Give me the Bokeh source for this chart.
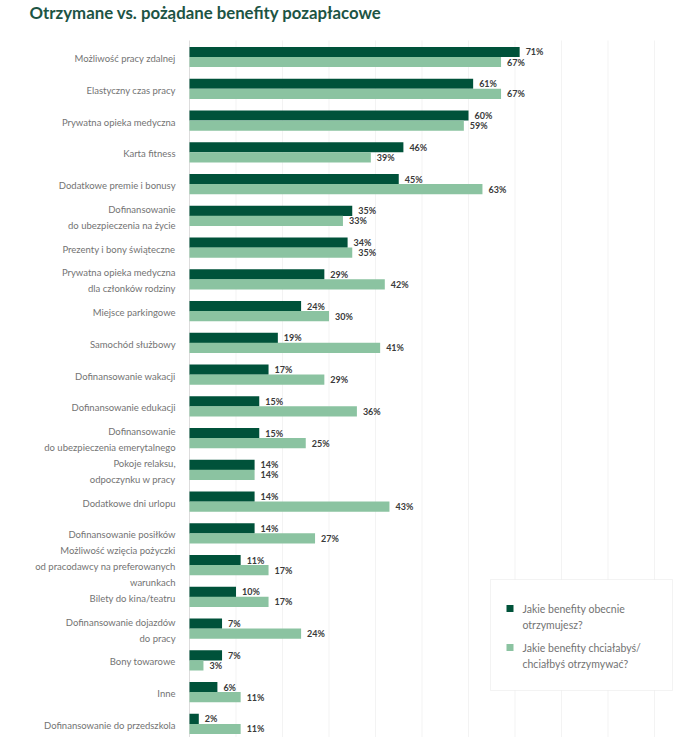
from bokeh.plotting import figure
from bokeh.models import Range1d, Label, BoxAnnotation, ColumnDataSource
from bokeh.core.properties import value
from bokeh.embed import file_html
from bokeh.resources import INLINE

categories = [
    "Możliwość pracy zdalnej",
    "Elastyczny czas pracy",
    "Prywatna opieka medyczna",
    "Karta fitness",
    "Dodatkowe premie i bonusy",
    "Dofinansowanie\ndo ubezpieczenia na życie",
    "Prezenty i bony świąteczne",
    "Prywatna opieka medyczna\ndla członków rodziny",
    "Miejsce parkingowe",
    "Samochód służbowy",
    "Dofinansowanie wakacji",
    "Dofinansowanie edukacji",
    "Dofinansowanie\ndo ubezpieczenia emerytalnego",
    "Pokoje relaksu,\nodpoczynku w pracy",
    "Dodatkowe dni urlopu",
    "Dofinansowanie posiłków",
    "Możliwość wzięcia pożyczki\nod pracodawcy na preferowanych\nwarunkach",
    "Bilety do kina/teatru",
    "Dofinansowanie dojazdów\ndo pracy",
    "Bony towarowe",
    "Inne",
    "Dofinansowanie do przedszkola",
]
received = [71, 61, 60, 46, 45, 35, 34, 29, 24, 19, 17, 15, 15, 14, 14, 14, 11, 10, 7, 7, 6, 2]
desired = [67, 67, 59, 39, 63, 33, 35, 42, 30, 41, 29, 36, 25, 14, 43, 27, 17, 17, 24, 3, 11, 11]
grid_ticks = [10, 20, 30, 40, 50, 60, 70, 80, 90, 100]

series_names = ["Jakie benefity obecnie\notrzymujesz?",
                "Jakie benefity chciałabyś/\nchciałbyś otrzymywać?"]
title_text = "Otrzymane vs. pożądane benefity pozapłacowe"

DARK = "#00523a"
LIGHT = "#8bc3a1"
W, H = 675, 737
ROW = 31.76
TOP = 56.5
X0 = 189.0
PX = 4.65

idx = list(range(len(categories)))
src = ColumnDataSource(dict(
    y=idx,
    y_dark=[i - 0.158 for i in idx],
    y_light=[i + 0.158 for i in idx],
    received=received,
    desired=desired,
    rlab=[f"{v}%" for v in received],
    dlab=[f"{v}%" for v in desired],
    cat=categories,
    lab_x=[-3.0] * len(idx),
))

p = figure(width=W, height=H, output_backend="svg", toolbar_location=None,
           x_range=Range1d(-X0 / PX, (W - X0) / PX),
           y_range=Range1d((H - TOP) / ROW, -TOP / ROW),
           min_border=0, min_border_left=0, min_border_right=0,
           min_border_top=0, min_border_bottom=0)
p.axis.visible = False
p.grid.visible = False
p.outline_line_color = None
p.background_fill_color = "white"

ytop = (40 - TOP) / ROW
ybot = (H - TOP) / ROW
gsrc = ColumnDataSource(dict(x=grid_ticks, y0=[ytop] * len(grid_ticks), y1=[ybot] * len(grid_ticks)))
p.segment(x0="x", x1="x", y0="y0", y1="y1", source=gsrc, line_color="#f3f3f3", line_width=1)
asrc = ColumnDataSource(dict(x=[0], y0=[ytop], y1=[ybot]))
p.segment(x0="x", x1="x", y0="y0", y1="y1", source=asrc, line_color="#dddddd", line_width=1)

bh = 10.2 / ROW
p.hbar(y="y_dark", left=0, right="received", height=bh, source=src, fill_color=DARK, line_color=None)
p.hbar(y="y_light", left=0, right="desired", height=bh, source=src, fill_color=LIGHT, line_color=None)

p.text(x="received", y="y_dark", text="rlab", source=src, x_offset=6,
       text_font=value("Lato"), text_font_style="bold", text_font_size="9px",
       text_color="#3a3a3a", text_baseline="middle", text_align="left")
p.text(x="desired", y="y_light", text="dlab", source=src, x_offset=6,
       text_font=value("Lato"), text_font_style="bold", text_font_size="9px",
       text_color="#3a3a3a", text_baseline="middle", text_align="left")

p.text(x="lab_x", y="y", text="cat", source=src, y_offset=1.5,
       text_font=value("Lato"), text_font_size="9.5px", text_color="#737373",
       text_baseline="middle", text_align="right", text_line_height=1.47)

p.add_layout(Label(x=29, y=H - 12, x_units="screen", y_units="screen", text=title_text,
                   text_font="Lato", text_font_style="bold", text_font_size="16.8px",
                   text_color="#1d5444", text_baseline="middle", text_align="left"))

# legend box (screen coords measured from bottom)
p.add_layout(BoxAnnotation(left=490, right=672, bottom=H - 690, top=H - 579,
                           left_units="screen", right_units="screen",
                           bottom_units="screen", top_units="screen",
                           fill_color="white", fill_alpha=1.0,
                           line_color="#d6d6d6", line_width=1, level="overlay"))
for k, (col, yc) in enumerate([(DARK, 608), (LIGHT, 647)]):
    p.add_layout(BoxAnnotation(left=506, right=513, bottom=H - yc - 3.5, top=H - yc + 3.5,
                               left_units="screen", right_units="screen",
                               bottom_units="screen", top_units="screen",
                               fill_color=col, fill_alpha=1.0, line_color=None, level="overlay"))
    p.add_layout(Label(x=522, y=H - (yc - 6), x_units="screen", y_units="screen",
                       text=series_names[k], text_font="Lato", text_font_size="10.5px",
                       text_color="#737373", text_baseline="top", text_align="left",
                       text_line_height=1.4, level="overlay"))

open("out.html", "w").write(file_html(p, INLINE))
